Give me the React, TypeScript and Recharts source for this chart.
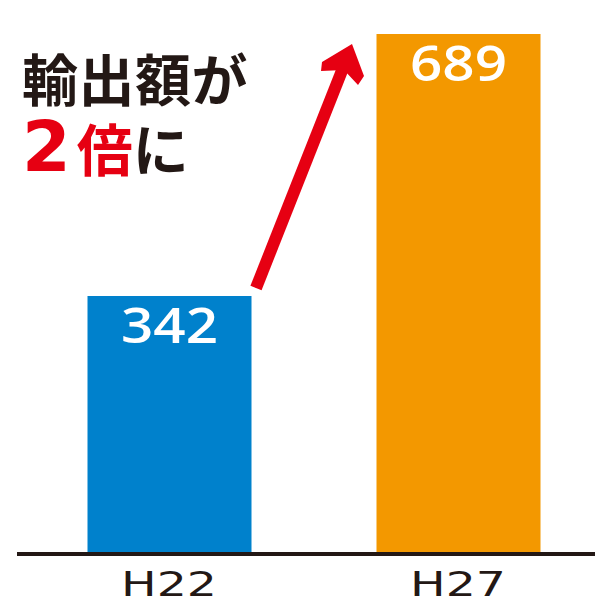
import { Bar, BarChart, Cell, LabelList, XAxis, YAxis } from 'recharts';

const years = ['H22', 'H27'];
const exportValues = [342, 689];
const barColors = ['#0081CC', '#F39800'];

const data = years.map((year, i) => ({ year, value: exportValues[i] }));

const INK = '#231815';
const RED = '#E60012';

function YearTick({ x, y, payload }: any) {
  return (
    <text
      x={x}
      y={y + 34}
      textAnchor="middle"
      fontFamily="DejaVu Sans"
      fontSize={33}
      fill={INK}
      textLength={96}
      lengthAdjust="spacingAndGlyphs"
    >
      {payload.value}
    </text>
  );
}

function ValueLabel({ x, y, width, value }: any) {
  return (
    <text
      x={x + width / 2}
      y={y + 47}
      textAnchor="middle"
      fontFamily="Open Sans"
      fontWeight={600}
      fontSize={48}
      fill="#fff"
      textLength={97}
      lengthAdjust="spacingAndGlyphs"
    >
      {value}
    </text>
  );
}

const line: React.CSSProperties = { height: 70, lineHeight: '70px', whiteSpace: 'nowrap' };
const chip: React.CSSProperties = { display: 'inline-block', height: 70, lineHeight: '70px', verticalAlign: 'top' };

export default function App() {
  return (
    <div style={{ position: 'absolute', left: 0, top: 0, width: 595, height: 612, overflow: 'hidden', background: '#fff' }}>
      <BarChart width={603} height={612} data={data} margin={{ top: 34, right: 0, bottom: 0, left: 17 }}>
        <YAxis hide domain={[0, 'dataMax']} />
        <XAxis
          dataKey="year"
          height={58}
          padding={{ left: 7.5, right: 0.5 }}
          axisLine={{ stroke: INK, strokeWidth: 4 }}
          tickLine={false}
          tick={<YearTick />}
          interval={0}
        />
        <Bar dataKey="value" barSize={164} isAnimationActive={false}>
          {data.map((d, i) => (
            <Cell key={d.year} fill={barColors[i]} />
          ))}
          <LabelList dataKey="value" content={<ValueLabel />} />
        </Bar>
      </BarChart>

      <svg width={595} height={612} style={{ position: 'absolute', left: 0, top: 0, pointerEvents: 'none' }}>
        <line x1={256} y1={288} x2={343} y2={68} stroke={RED} strokeWidth={12} />
        <polygon points="352,44 364,76 358,85 344,70 321,71 322,62" fill={RED} />
      </svg>

      <div
        style={{
          position: 'absolute',
          left: 22,
          top: 42,
          fontFamily: '"Noto Sans CJK JP"',
          fontWeight: 700,
          fontSize: 56,
          color: INK,
        }}
      >
        <div style={{ ...line, letterSpacing: 0.5 }}>輸出額が</div>
        <div style={line}>
          <span style={{ ...chip, fontFamily: '"DejaVu Sans"', fontSize: 70, color: RED, marginRight: 6 }}>2</span>
          <span style={{ ...chip, color: RED }}>倍</span>
          <span style={chip}>に</span>
        </div>
      </div>
    </div>
  );
}
